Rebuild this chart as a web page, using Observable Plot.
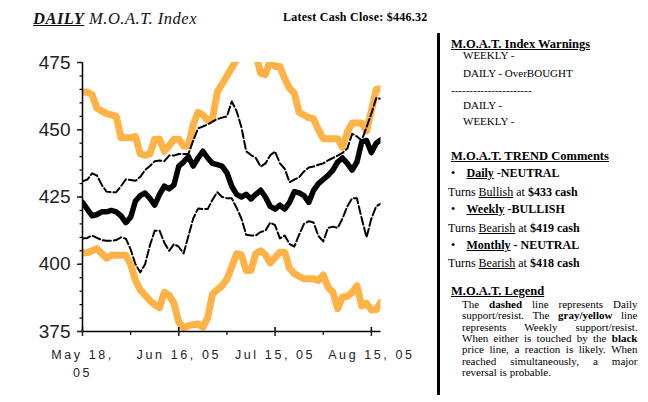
<!DOCTYPE html>
<html>
<head>
<meta charset="utf-8">
<script src="https://cdn.jsdelivr.net/npm/d3@7"></script>
<script src="https://cdn.jsdelivr.net/npm/@observablehq/plot@0.6"></script>
<style>
  html, body { margin: 0; padding: 0; background: #fff; }
  #wrap { position: relative; width: 648px; height: 402px; overflow: hidden;
          font-family: "Liberation Serif", "Times New Roman", serif; color: #000; }
  #chart { position: absolute; left: 0; top: 0; }
  .t { position: absolute; white-space: nowrap; line-height: 1; }
  .b { font-weight: bold; }
  .u { text-decoration: underline; }
  .h { line-height: 0.75; }
  .p { position: absolute; left: 462px; width: 175.5px; font-size: 11px; line-height: 0.8;
       text-align: justify; text-align-last: justify; }
  #vline { position: absolute; left: 436.5px; top: 33px; width: 3px; height: 362px; background: #000; }
  #chart svg [aria-label="x-axis tick label"] text { letter-spacing: 2.6px; }
</style>
</head>
<body>
<div id="wrap">
  <div id="chart"></div>

  <div class="t" style="left:33px;top:11.2px;font-size:16.5px;letter-spacing:0.5px;font-style:italic;color:#111;">
    <span class="b u">DAILY</span> M.O.A.T. Index</div>
  <div class="t b" style="left:283px;top:10.7px;font-size:12px;letter-spacing:0.25px;">Latest Cash Close: $446.32</div>

  <div id="vline"></div>

  <div class="t b u" style="left:451px;top:37.5px;font-size:12.5px;">M.O.A.T. Index Warnings</div>
  <div class="t" style="left:463px;top:50.1px;font-size:11px;">WEEKLY -</div>
  <div class="t" style="left:463px;top:67.5px;font-size:11px;">DAILY - OverBOUGHT</div>
  <div class="t" style="left:451px;top:84.8px;font-size:11px;">----------------------</div>
  <div class="t" style="left:463px;top:99.8px;font-size:11px;">DAILY -</div>
  <div class="t" style="left:463px;top:115.5px;font-size:11px;">WEEKLY -</div>

  <div class="t b u" style="left:451px;top:149.5px;font-size:12.5px;">M.O.A.T. TREND Comments</div>
  <div class="t" style="left:451px;top:166.6px;font-size:12px;">•</div>
  <div class="t b" style="left:466.5px;top:166.6px;font-size:12px;"><span class="u">Daily</span> -NEUTRAL</div>
  <div class="t" style="left:448px;top:185.6px;font-size:12px;">Turns <span class="u">Bullish</span> at <span class="b">$433 cash</span></div>
  <div class="t" style="left:451px;top:202.6px;font-size:12px;">•</div>
  <div class="t b" style="left:466.5px;top:202.6px;font-size:12px;"><span class="u">Weekly</span> -BULLISH</div>
  <div class="t" style="left:448px;top:222.2px;font-size:12px;">Turns <span class="u">Bearish</span> at <span class="b">$419 cash</span></div>
  <div class="t" style="left:451px;top:239px;font-size:12px;">•</div>
  <div class="t b" style="left:466.5px;top:239px;font-size:12px;"><span class="u">Monthly</span> - NEUTRAL</div>
  <div class="t" style="left:448px;top:257.2px;font-size:12px;">Turns <span class="u">Bearish</span> at <span class="b">$418 cash</span></div>

  <div class="t b u h" style="left:451px;top:286.6px;font-size:12.5px;">M.O.A.T. Legend</div>
  <div class="p" style="top:300.1px;">The <b>dashed</b> line represents Daily</div>
  <div class="p" style="top:311.4px;">support/resist. The <b>gray/yellow</b> line</div>
  <div class="p" style="top:322.9px;">represents Weekly support/resist.</div>
  <div class="p" style="top:333.9px;">When either is touched by the <b>black</b></div>
  <div class="p" style="top:345.4px;">price line, a reaction is likely. When</div>
  <div class="p" style="top:356.8px;">reached simultaneously, a major</div>
  <div class="p" style="top:367.8px;text-align-last:left;">reversal is probable.</div>
</div>

<script>
// trading-day index (0 = May 18, 05)
const day = [0,1,2,3,4,5,6,7,8,9,10,11,12,13,14,15,16,17,18,19,20,21,22,23,24,25,26,27,28,29,30,
  31,32,33,34,35,36,37,38,39,40,41,42,43,44,45,46,47,48,49,50,51,52,53,54,55,56,57,58,59,60,61,62];

// black price line
const price = [423, 420.5, 418, 418.5, 419.5, 419.5, 420, 419.5, 418, 415.5,
  417.5, 423.5, 425.5, 426.5, 424.5, 422, 426, 429, 428, 429.5,
  436.5, 438, 440, 436.5, 439.5, 442, 439.5, 437.5, 437, 436.5,
  434, 429, 426, 425, 426, 424.3, 426, 427.5, 425, 421.5,
  420.5, 422, 420.5, 423, 427, 426.5, 425.5, 423, 427.5, 430,
  431.5, 433, 435, 438, 439.5, 437.5, 435, 438, 445.5, 446,
  441.5, 445, 446.3];

// weekly resistance (upper yellow)
const weeklyHigh = [464, 464, 463, 458, 457, 456, 455.5, 455, 447, 447,
  447, 447.5, 441, 440.5, 441, 446.5, 446.5, 442, 444, 446.5,
  446.5, 444, 444, 452, 456.5, 455.5, 453.5, 454, 464, 467,
  470, 473, 476, 478, 478, 478, 478, 471, 470.5, 476,
  473.5, 473.5, 469, 465.5, 463.5, 456.5, 455.5, 454.5, 454, 450,
  446.7, 446.7, 446.7, 446.7, 443.5, 449, 452.5, 452.5, 452.5, 449.5,
  457, 465, 465.3];

// weekly support (lower yellow)
const weeklyLow = [404.3, 404.3, 405, 405.8, 404, 402.2, 403.3, 403.3, 403.3, 403.3,
  400, 394, 390.5, 388.5, 386.5, 385, 383.8, 389.6, 388.5, 385.5,
  378.5, 376.3, 377.2, 377.5, 377.8, 376.6, 380, 389, 390.5, 392,
  394.5, 399, 403.9, 403.5, 397.7, 397.7, 404, 405, 403.5, 400.5,
  402.5, 404.5, 404.5, 398.5, 396.5, 395.5, 394.6, 394.6, 394.6, 394,
  396, 391.5, 389.6, 383.5, 387.8, 388, 389.5, 392, 384.5, 385.5,
  383, 383.2, 385.9];

// daily resistance (upper dashed)
const dailyHigh = [430.8, 431.5, 433.8, 433, 429.5, 427, 426.8, 426.8, 429, 431.6,
  431.3, 431, 432.5, 435, 436.5, 438.3, 438.6, 438.3, 440.4, 440.4,
  441, 441, 441, 446, 450.5, 451.2, 452, 453, 454, 454.5,
  455, 460.5, 457, 451, 442, 440.6, 439.5, 436.3, 437.5, 440.5,
  441.9, 437.5, 435.5, 430.5, 431.5, 432.3, 434.5, 436, 436.3, 437,
  437.5, 438.6, 439.5, 440.4, 441.4, 443, 448.5, 447.5, 446, 451,
  456, 461.8, 461.5];

// daily support (lower dashed)
const dailyLow = [409.6, 409.8, 410.7, 409.8, 409, 408.7, 408.7, 409, 410, 409.5,
  405.5, 400, 397, 400, 407, 412.5, 412.5, 408, 405, 407.5,
  406.5, 404, 410.5, 417, 420.7, 420.5, 420.5, 424, 426.8, 425,
  424.5, 424.5, 421, 417, 411, 410.7, 410.7, 412, 412.5, 415.5,
  414.5, 409.6, 410.7, 407.5, 406.6, 411, 415, 416, 415.5, 410.5,
  408.5, 413.5, 414, 413.5, 417, 421.5, 424.5, 424.5, 417, 410,
  417, 421.5, 422.6];

const xTicks = [0, 20, 40, 60];
const xTickLabels = ["May 18,\n05", "Jun 16, 05", "Jul 15, 05", "Aug 15, 05"];
const xMinorTicks = [10, 30, 50];
const yTicks = [375, 400, 425, 450, 475];
const yMinorTicks = [375, 380, 385, 390, 395, 400, 405, 410, 415, 420, 425, 430, 435, 440, 445, 450, 455, 460, 465, 470, 475];

const rows = day.map((d, i) => ({
  day: d, price: price[i], wh: weeklyHigh[i], wl: weeklyLow[i], dh: dailyHigh[i], dl: dailyLow[i]
}));

const orange = "#ffb347";
const chart = Plot.plot({
  width: 436,
  height: 402,
  marginLeft: 82,
  marginRight: 55.5,
  marginTop: 62,
  marginBottom: 71,
  x: { domain: [0, 62], label: null },
  y: { domain: [375, 475], label: null },
  style: { fontFamily: "'Liberation Sans', Arial, sans-serif", background: "transparent", overflow: "visible" },
  marks: [
    Plot.lineY(rows, { x: "day", y: "wh", stroke: orange, strokeWidth: 7, clip: true }),
    Plot.lineY(rows, { x: "day", y: "wl", stroke: orange, strokeWidth: 7, clip: true }),
    Plot.lineY(rows, { x: "day", y: "price", stroke: "#000", strokeWidth: 5.5, clip: true }),
    Plot.lineY(rows, { x: "day", y: "dh", stroke: "#000", strokeWidth: 2, strokeDasharray: "8,3", clip: true }),
    Plot.lineY(rows, { x: "day", y: "dl", stroke: "#000", strokeWidth: 2, strokeDasharray: "8,3", clip: true }),
    Plot.ruleX([0], { stroke: "#000", strokeWidth: 1.5 }),
    Plot.ruleY([375], { stroke: "#000", strokeWidth: 1.5 }),
    Plot.axisY({ ticks: yMinorTicks, tickSize: 2.5, strokeWidth: 1.2, tickFormat: () => "" }),
    Plot.axisY({ ticks: yTicks, tickSize: 5, tickPadding: 7, strokeWidth: 1.5, fontSize: 19, color: "#222", tickFormat: d => String(d) }),
    Plot.axisX({ ticks: xMinorTicks, tickSize: 4, strokeWidth: 1.2, tickFormat: () => "" }),
    Plot.axisX({ ticks: xTicks, tickSize: -4, strokeWidth: 1.5, tickFormat: () => "" }),
    Plot.axisX({ ticks: xTicks, tickSize: 5, tickPadding: 10, strokeWidth: 1.5, fontSize: 12.5, lineHeight: 1.45, color: "#222",
                 tickFormat: d => xTickLabels[xTicks.indexOf(d)] })
  ]
});
document.getElementById("chart").appendChild(chart);
</script>
</body>
</html>
